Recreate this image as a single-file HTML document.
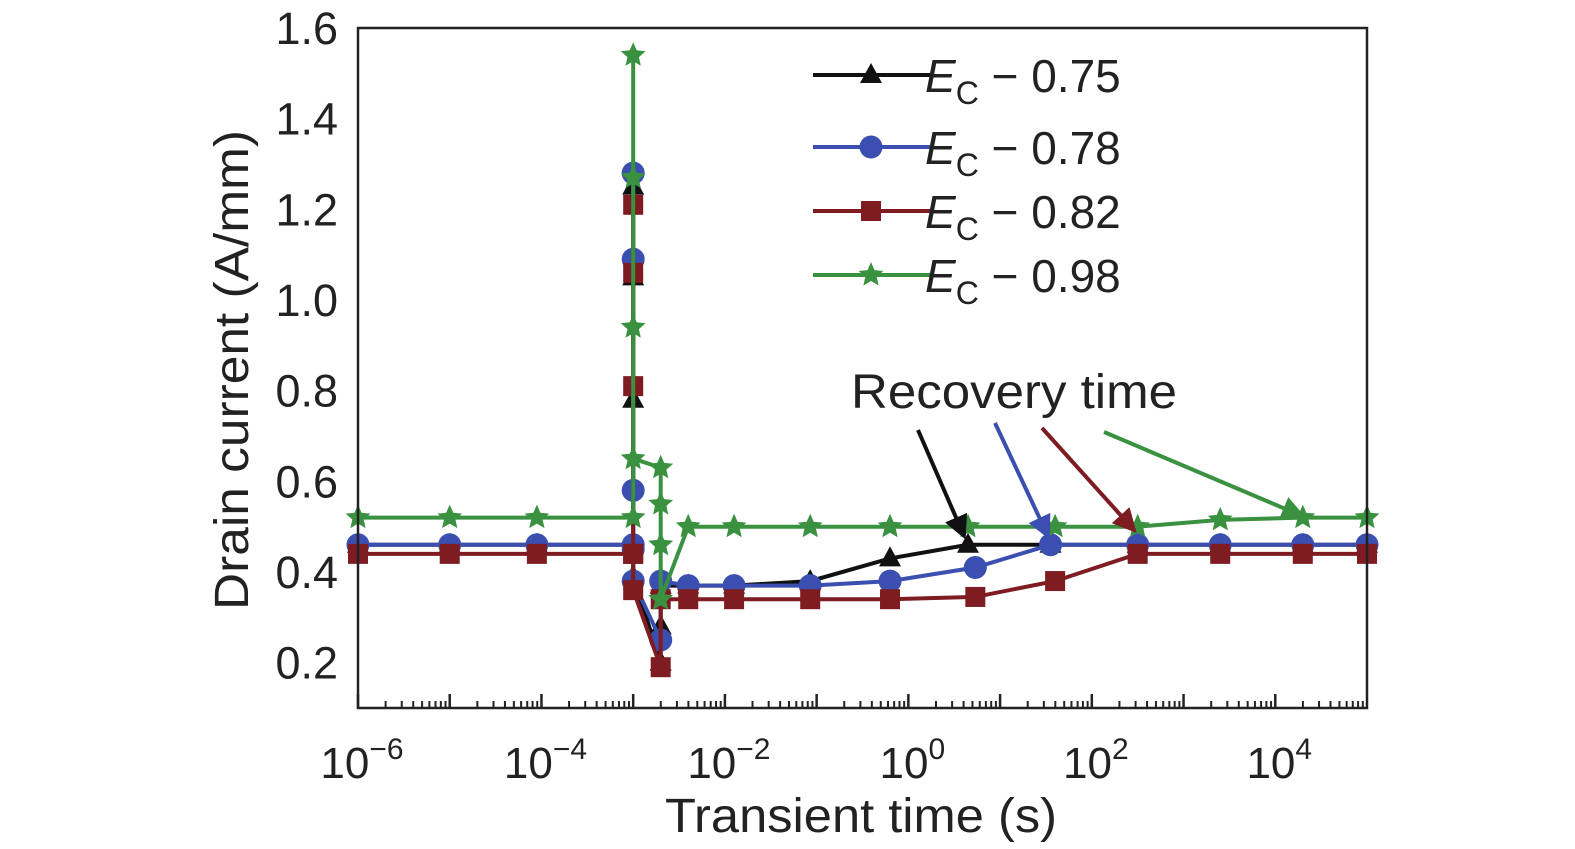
<!DOCTYPE html>
<html><head><meta charset="utf-8"><style>
html,body{margin:0;padding:0;background:#fff;}
svg{display:block;font-family:"Liberation Sans",sans-serif;}
</style></head><body>
<svg id="chart" width="1575" height="849" viewBox="0 0 1575 849" xmlns="http://www.w3.org/2000/svg">
<defs>
<marker id="ahK" markerWidth="6" markerHeight="6" refX="5" refY="3" orient="auto" markerUnits="strokeWidth"><path d="M0,0L6,3L0,6z" fill="#111"/></marker>
<marker id="ahB" markerWidth="6" markerHeight="6" refX="5" refY="3" orient="auto" markerUnits="strokeWidth"><path d="M0,0L6,3L0,6z" fill="#3a4fb0"/></marker>
<marker id="ahR" markerWidth="6" markerHeight="6" refX="5" refY="3" orient="auto" markerUnits="strokeWidth"><path d="M0,0L6,3L0,6z" fill="#7e1c22"/></marker>
<marker id="ahG" markerWidth="6" markerHeight="6" refX="5" refY="3" orient="auto" markerUnits="strokeWidth"><path d="M0,0L6,3L0,6z" fill="#3a9140"/></marker>
</defs>
<g id="plot"></g>
<g id="axes"></g>
<text transform="translate(248,370) rotate(-90)" text-anchor="middle" font-size="48" fill="#222" textLength="480" lengthAdjust="spacingAndGlyphs">Drain current (A/mm)</text>
<text x="861" y="832" text-anchor="middle" font-size="48" fill="#222" textLength="392" lengthAdjust="spacingAndGlyphs">Transient time (s)</text>
<text x="1014" y="408" text-anchor="middle" font-size="48" fill="#222" textLength="326" lengthAdjust="spacingAndGlyphs">Recovery time</text>
<g>
<line x1="918" y1="430" x2="964" y2="536" stroke="#111" stroke-width="4" marker-end="url(#ahK)"/>
<line x1="995" y1="423" x2="1048" y2="536" stroke="#3a4fb0" stroke-width="4" marker-end="url(#ahB)"/>
<line x1="1042" y1="428" x2="1134" y2="530" stroke="#7e1c22" stroke-width="4" marker-end="url(#ahR)"/>
<line x1="1104" y1="432" x2="1302" y2="516" stroke="#3a9140" stroke-width="4" marker-end="url(#ahG)"/>
</g>
<g id="legend"></g>
</svg>
<script>
const seriesNames=["E_C − 0.75","E_C − 0.78","E_C − 0.82","E_C − 0.98"];
const legendValues=["0.75","0.78","0.82","0.98"];
const yTicks=[0.2,0.4,0.6,0.8,1.0,1.2,1.4,1.6];
const xTicks=[-6,-4,-2,0,2,4];
const blackX=[-6,-5,-4.05,-3,-3,-3,-3,-3,-3,-2.7,-2.7,-2.7,-2.4,-1.9,-1.07,-0.2,0.65,1.55,2.5,3.4,4.3,5];
const blackY=[0.46,0.46,0.46,0.46,0.78,1.05,1.25,0.46,0.39,0.2,0.28,0.37,0.37,0.37,0.38,0.43,0.46,0.46,0.46,0.46,0.46,0.46];
const blueX=[-6,-5,-4.05,-3,-3,-3,-3,-3,-3,-2.7,-2.7,-2.4,-1.9,-1.07,-0.2,0.73,1.55,2.5,3.4,4.3,5];
const blueY=[0.46,0.46,0.46,0.46,0.58,1.09,1.28,0.45,0.38,0.25,0.38,0.37,0.37,0.37,0.38,0.41,0.46,0.46,0.46,0.46,0.46];
const redX=[-6,-5,-4.05,-3,-3,-3,-3,-3,-3,-2.7,-2.7,-2.4,-1.9,-1.07,-0.2,0.73,1.6,2.5,3.4,4.3,5];
const redY=[0.44,0.44,0.44,0.44,0.81,1.06,1.21,0.44,0.36,0.19,0.34,0.34,0.34,0.34,0.34,0.345,0.38,0.44,0.44,0.44,0.44];
const greenX=[-6,-5,-4.05,-3,-3,-3,-3,-3,-2.7,-2.7,-2.7,-2.7,-2.4,-1.9,-1.07,-0.2,0.65,1.6,2.5,3.4,4.3,5];
const greenY=[0.52,0.52,0.52,0.52,1.54,1.27,0.94,0.65,0.63,0.55,0.46,0.34,0.5,0.5,0.5,0.5,0.5,0.5,0.5,0.515,0.52,0.52];
const NS="http://www.w3.org/2000/svg";
const L=358,R=1367,T=28,B=708,xmin=-6,xmax=5,ymin=0.1,ymax=1.6;
const sx=v=>L+(v-xmin)/(xmax-xmin)*(R-L);
const sy=v=>B-(v-ymin)/(ymax-ymin)*(B-T);
function mk(tag,attrs,parent){const e=document.createElementNS(NS,tag);for(const k in attrs)e.setAttribute(k,attrs[k]);parent.appendChild(e);return e;}
const plot=document.getElementById('plot'),axes=document.getElementById('axes'),legend=document.getElementById('legend');
const cols=["#111111","#3a4fb0","#7e1c22","#3a9140"];
const shapes=["tri","circle","square","star"];
function marker(shape,x,y,c,g){
  let e;
  if(shape==="tri"){e=mk('path',{d:`M${x},${y-12}L${x+11},${y+8}L${x-11},${y+8}Z`,fill:c},g);}
  else if(shape==="circle"){e=mk('circle',{cx:x,cy:y,r:11.5,fill:c},g);}
  else if(shape==="square"){e=mk('rect',{x:x-10,y:y-10,width:20,height:20,fill:c},g);}
  else{let p="";for(let i=0;i<10;i++){const a=-Math.PI/2+i*Math.PI/5,r=i%2?6:13;p+=(i?"L":"M")+(x+r*Math.cos(a)).toFixed(1)+","+(y+r*Math.sin(a)).toFixed(1);}e=mk('path',{d:p+"Z",fill:c},g);}
  return e;
}
const allX=[blackX,blueX,redX,greenX],allY=[blackY,blueY,redY,greenY];
const sNames=["series-ec-075","series-ec-078","series-ec-082","series-ec-098"];
for(let s=0;s<4;s++){
  const g=mk('g',{},plot);
  
  
  const d=allX[s].map((v,i)=>(i?"L":"M")+sx(v).toFixed(1)+","+sy(allY[s][i]).toFixed(1)).join("");
  const ln=mk('path',{d:d,fill:"none",stroke:cols[s],"stroke-width":4},g);
  
  
  allX[s].forEach((v,i)=>{
    const m=marker(shapes[s],sx(v),sy(allY[s][i]),cols[s],g);
    
    
  });
}
const fr=mk('rect',{x:L,y:T,width:R-L,height:B-T,fill:"none",stroke:"#222","stroke-width":2.5},axes);


for(let d=xmin;d<xmax;d++){
  const t=mk('line',{x1:sx(d),y1:B,x2:sx(d),y2:B-14,stroke:"#222","stroke-width":2.5},axes);
  
  
  for(let k=2;k<10;k++){
    const xx=sx(d+Math.log10(k));
    const mt=mk('line',{x1:xx,y1:B,x2:xx,y2:B-7,stroke:"#222","stroke-width":2},axes);
    
    
  }
}
xTicks.forEach(v=>{
  const t=mk('text',{x:sx(v)+4,y:778,"text-anchor":"middle","font-size":44,fill:"#222"},axes);
  
  
  t.textContent="10";
  const sp=mk('tspan',{dy:-19,"font-size":30},t);
  sp.textContent=(v<0?"−":"")+Math.abs(v);
});
yTicks.forEach(v=>{
  const t=mk('text',{x:338,y:sy(v)+16,"text-anchor":"end","font-size":45,fill:"#222"},axes);
  
  
  t.textContent=v.toFixed(1);
});
const legY=[75,147,211,275];
for(let s=0;s<4;s++){
  const g=mk('g',{},legend);
  
  
  mk('line',{x1:813,y1:legY[s],x2:932,y2:legY[s],stroke:cols[s],"stroke-width":4},g);
  marker(shapes[s],871,legY[s],cols[s],g);
  const t=mk('text',{x:925,y:legY[s]+17,"font-size":46,fill:"#222"},g);
  const e=mk('tspan',{"font-style":"italic"},t);e.textContent="E";
  const c=mk('tspan',{"font-size":32,dy:12},t);c.textContent="C";
  const r=mk('tspan',{dy:-12},t);r.textContent=" − "+legendValues[s];
}
</script>
</body></html>
